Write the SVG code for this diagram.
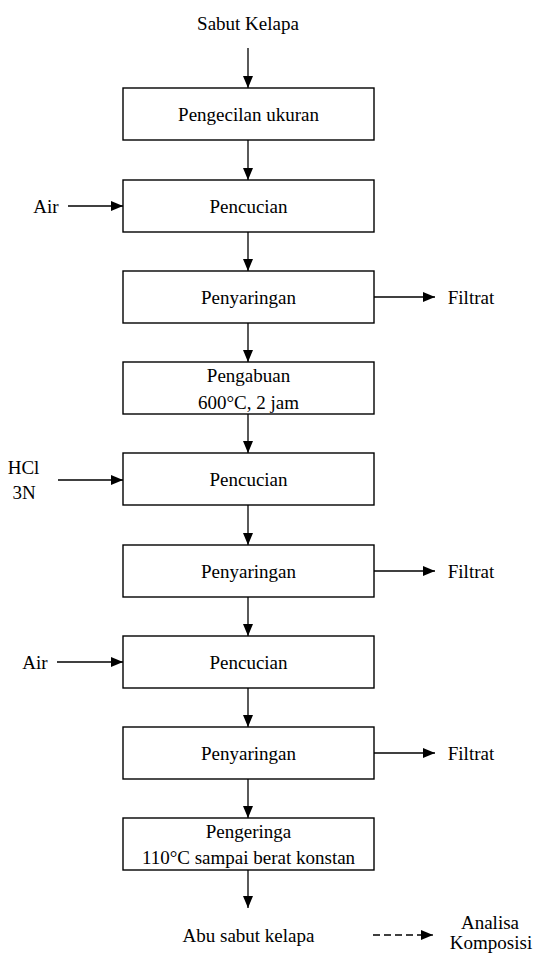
<svg xmlns="http://www.w3.org/2000/svg" width="534" height="954" viewBox="0 0 534 954">
<style>
.box{fill:#fff;stroke:#000;stroke-width:1.4}
.t{font-size:19px;fill:#000;text-anchor:middle}
.c{stroke:#000;stroke-width:1.3;fill:none}
.d{stroke:#000;stroke-width:1.3;fill:none;stroke-dasharray:7 4}
</style>
<defs>
<marker id="ah" markerUnits="userSpaceOnUse" markerWidth="12" markerHeight="10" refX="12" refY="5" orient="auto">
<path d="M0,0 L12,5 L0,10 z" fill="#000"/>
</marker>
</defs>
<rect width="534" height="954" fill="#fff"/>
<g id="connectors">
<line class="c" x1="248" y1="48" x2="248" y2="88" marker-end="url(#ah)"/>
<line class="c" x1="248" y1="140" x2="248" y2="180" marker-end="url(#ah)"/>
<line class="c" x1="248" y1="232" x2="248" y2="271" marker-end="url(#ah)"/>
<line class="c" x1="248" y1="323" x2="248" y2="362" marker-end="url(#ah)"/>
<line class="c" x1="248" y1="414" x2="248" y2="453" marker-end="url(#ah)"/>
<line class="c" x1="248" y1="505" x2="248" y2="545" marker-end="url(#ah)"/>
<line class="c" x1="248" y1="597" x2="248" y2="636" marker-end="url(#ah)"/>
<line class="c" x1="248" y1="688" x2="248" y2="727" marker-end="url(#ah)"/>
<line class="c" x1="248" y1="779" x2="248" y2="818" marker-end="url(#ah)"/>
<line class="c" x1="248" y1="870" x2="248" y2="908" marker-end="url(#ah)"/>
<line class="c" x1="68" y1="206" x2="123" y2="206" marker-end="url(#ah)"/>
<line class="c" x1="58" y1="480" x2="123" y2="480" marker-end="url(#ah)"/>
<line class="c" x1="57" y1="662" x2="123" y2="662" marker-end="url(#ah)"/>
<line class="c" x1="374" y1="297" x2="435" y2="297" marker-end="url(#ah)"/>
<line class="c" x1="374" y1="571" x2="435" y2="571" marker-end="url(#ah)"/>
<line class="c" x1="374" y1="753" x2="435" y2="753" marker-end="url(#ah)"/>
<line class="d" x1="373" y1="935" x2="422" y2="935"/>
<line class="c" x1="422" y1="935" x2="433" y2="935" marker-end="url(#ah)"/>
</g>
<g font-family="'Liberation Serif', 'Times New Roman', 'DejaVu Serif', serif">
<g id="n-sabut"><text class="t" x="248" y="30">Sabut Kelapa</text></g>
<g id="n1"><rect class="box" x="123" y="88" width="251" height="52"/><text class="t" x="248.5" y="121">Pengecilan ukuran</text></g>
<g id="n2"><rect class="box" x="123" y="180" width="251" height="52"/><text class="t" x="248.5" y="213">Pencucian</text></g>
<g id="n3"><rect class="box" x="123" y="271" width="251" height="52"/><text class="t" x="248.5" y="304">Penyaringan</text></g>
<g id="n4"><rect class="box" x="123" y="362" width="251" height="52"/><text class="t" x="248.5" y="382">Pengabuan</text><text class="t" x="248.5" y="409">600°C, 2 jam</text></g>
<g id="n5"><rect class="box" x="123" y="453" width="251" height="52"/><text class="t" x="248.5" y="486">Pencucian</text></g>
<g id="n6"><rect class="box" x="123" y="545" width="251" height="52"/><text class="t" x="248.5" y="578">Penyaringan</text></g>
<g id="n7"><rect class="box" x="123" y="636" width="251" height="52"/><text class="t" x="248.5" y="669">Pencucian</text></g>
<g id="n8"><rect class="box" x="123" y="727" width="251" height="52"/><text class="t" x="248.5" y="760">Penyaringan</text></g>
<g id="n9"><rect class="box" x="123" y="818" width="251" height="52"/><text class="t" x="248.5" y="838">Pengeringa</text><text class="t" x="248.5" y="864">110°C sampai berat konstan</text></g>
<g id="air1"><text class="t" x="46" y="213">Air</text></g>
<g id="hcl"><text class="t" x="23.5" y="474">HCl</text><text class="t" x="24" y="499">3N</text></g>
<g id="air2"><text class="t" x="35" y="669">Air</text></g>
<g id="f1"><text class="t" x="471" y="304">Filtrat</text></g>
<g id="f2"><text class="t" x="471" y="578">Filtrat</text></g>
<g id="f3"><text class="t" x="471" y="760">Filtrat</text></g>
<g id="abu"><text class="t" x="248.5" y="942">Abu sabut kelapa</text></g>
<g id="analisa"><text class="t" x="490" y="929">Analisa</text><text class="t" x="491" y="949">Komposisi</text></g>
</g>
</svg>
